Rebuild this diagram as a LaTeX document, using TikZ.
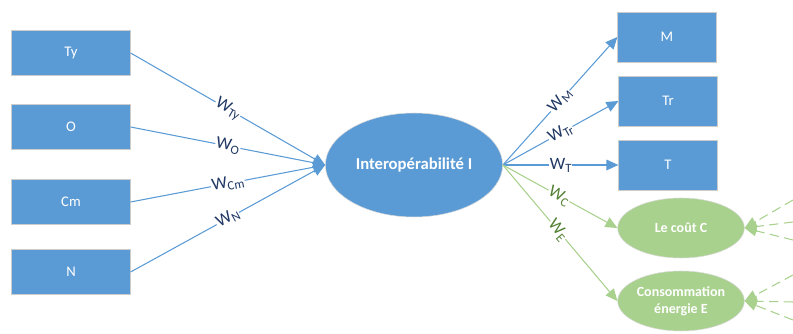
\documentclass[tikz,border=0pt]{standalone}
\usepackage{fontspec}
\setmainfont{Carlito}
\usepackage{xcolor}
\usetikzlibrary{shapes,arrows.meta,positioning,calc}

\definecolor{boxblue}{HTML}{5B9BD5}
\definecolor{boxgreen}{HTML}{A9D18E}
\definecolor{labblue}{HTML}{203864}
\definecolor{labgreen}{HTML}{548235}

% weight label: W with a small index
\newcommand{\wlab}[1]{W\raisebox{-0.35ex}{\fontsize{9.5}{10}\selectfont #1}}

\begin{document}
\begin{tikzpicture}[
    x=0.75pt, y=-0.75pt,
    inbox/.style={rectangle, draw=black!20, fill=boxblue, text=white, minimum width=89pt, minimum height=34pt, align=center, font=\fontsize{11}{13}\selectfont},
    outbox/.style={rectangle, draw=black!20, fill=boxblue, text=white, minimum width=74pt, minimum height=37.5pt, align=center, font=\fontsize{11}{13}\selectfont},
    crit/.style={ellipse, draw=black!15, fill=boxgreen, text=white, minimum width=95pt, minimum height=45pt, inner sep=0pt, align=center, font=\bfseries\fontsize{10.5}{12.5}\selectfont},
    arrow/.style={-{Triangle[length=9pt, width=8pt]}, draw=boxblue, line width=0.8pt},
    garrow/.style={-{Triangle[length=9pt, width=8pt]}, draw=boxgreen, line width=0.8pt},
    weight/.style={sloped, fill=white, inner sep=0.6pt, text=labblue, font=\fontsize{13}{14}\selectfont},
    gweight/.style={weight, text=labgreen}
]
\useasboundingbox (0,0) rectangle (793,334);

% Inputs
\node[inbox] (ty) at (71,53) {Ty};
\node[inbox] (o) at (71,127) {O};
\node[inbox] (cm) at (71,202) {Cm};
\node[inbox] (n) at (71,272) {N};

% Centre
\node[ellipse, draw=black!15, fill=boxblue, text=white, minimum width=129pt, minimum height=78pt, font=\bfseries\fontsize{12.5}{14}\selectfont] (interop) at (414,165) {Interopérabilité I};

% Outputs
\node[outbox] (m) at (667,37) {M};
\node[outbox] (tr) at (668,101) {Tr};
\node[outbox] (t) at (668,165) {T};
\node[crit] (cout) at (681,228) {Le coût C};
\node[crit] (conso) at (681,301) {Consommation\\énergie E};

% Weights in
\draw[arrow] (ty.east) -- node[weight] {\wlab{Ty}} (interop.west);
\draw[arrow] (o.east) -- node[weight] {\wlab{O}} (interop.west);
\draw[arrow] (cm.east) -- node[weight] {\wlab{Cm}} (interop.west);
\draw[arrow] (n.east) -- node[weight] {\wlab{N}} (interop.west);

% Weights out
\draw[arrow] (interop.east) -- node[weight] {\wlab{M}} (m.west);
\draw[arrow] (interop.east) -- node[weight] {\wlab{Tr}} (tr.west);
\draw[arrow] (interop.east) -- node[weight] {\wlab{T}} (t.west);
\draw[garrow] (interop.east) -- node[gweight, pos=0.49] {\wlab{C}} (cout.west);
\draw[garrow] (interop.east) -- node[gweight, pos=0.48] {\wlab{E}} (conso.west);

% Incoming (cut off)
\coordinate (c1) at (793,200);
\coordinate (c2) at (793,222);
\coordinate (c3) at (793,240);
\coordinate (e1) at (793,275);
\coordinate (e2) at (793,302);
\coordinate (e3) at (793,320);
\foreach \s in {c1,c2,c3}
    \draw[garrow, dash pattern=on 7pt off 4pt] (\s) -- (cout.east);
\foreach \s in {e1,e2,e3}
    \draw[garrow, dash pattern=on 7pt off 4pt] (\s) -- (conso.east);

\end{tikzpicture}
\end{document}
